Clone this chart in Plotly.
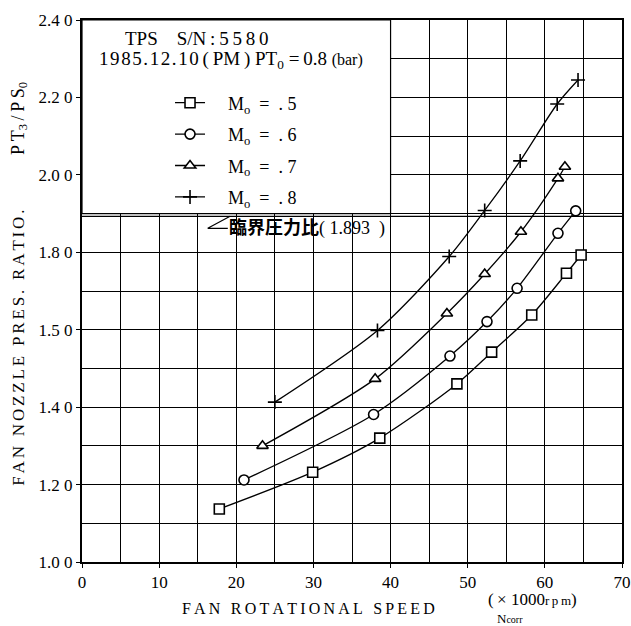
import plotly.graph_objects as go

# ---- data ----
x_m5 = [17.8, 29.9, 38.6, 48.6, 53.1, 58.3, 62.8, 64.7]
y_m5 = [1.137, 1.232, 1.320, 1.460, 1.542, 1.638, 1.746, 1.793]

x_m6 = [21.0, 37.8, 47.7, 52.5, 56.4, 61.7, 64.0]
y_m6 = [1.212, 1.381, 1.532, 1.621, 1.707, 1.849, 1.907]

x_m7 = [23.4, 38.0, 47.3, 52.2, 56.9, 61.7, 62.6]
y_m7 = [1.300, 1.473, 1.642, 1.744, 1.853, 1.991, 2.021]

x_m8 = [25.0, 38.3, 47.6, 52.2, 56.8, 61.6, 64.3]
y_m8 = [1.413, 1.598, 1.789, 1.908, 2.036, 2.183, 2.245]

series_names = ["M<sub>o</sub>  =  . 5", "M<sub>o</sub>  =  . 6", "M<sub>o</sub>  =  . 7", "M<sub>o</sub>  =  . 8"]
series_symbols = ["square", "circle", "triangle-up", "cross-thin"]

x_tickvals = [0, 10, 20, 30, 40, 50, 60, 70]
x_ticktext = ["0", "10", "20", "30", "40", "50", "60", "70"]
y_tickvals = [1.0, 1.2, 1.4, 1.6, 1.8, 2.0, 2.2, 2.4]
y_ticktext = ["1.0 0", "1.2 0", "1.4 0", "1.5 0", "1.8 0", "2.0 0", "2.2 0", "2.4 0"]

critical_ratio = 1.893

SERIF = "Liberation Serif, Noto Sans CJK JP"
NB = "\u00a0"
ts = "\u2009"
hs = "\u200a"
ss = "\u2006"

fig = go.Figure()
for xs, ys, name, sym in zip([x_m5, x_m6, x_m7, x_m8], [y_m5, y_m6, y_m7, y_m8],
                             series_names, series_symbols):
    is_plus = sym == "cross-thin"
    fig.add_trace(go.Scatter(
        x=xs, y=ys, name=NB * 4 + name, mode="lines+markers",
        line=dict(color="black", width=1.3, shape="spline", smoothing=0.8),
        marker=dict(symbol=sym, size=10,
                    color="black" if is_plus else "white",
                    line=dict(color="black", width=1.6)),
        legendgroup=name,
    ))

# legend box (white area) and critical ratio line
fig.add_shape(type="rect", xref="x", yref="y", x0=0, x1=40, y0=1.9, y1=2.4,
              fillcolor="white", line=dict(color="black", width=1.2), layer="above")
fig.add_shape(type="line", xref="paper", yref="y", x0=0, x1=1,
              y0=critical_ratio, y1=critical_ratio,
              line=dict(color="black", width=1.2), layer="above")
# leader mark for the critical ratio label
fig.add_shape(type="path", xref="x", yref="y",
              path="M 19.2 %.3f L 16.3 1.862 L 18.9 1.862" % critical_ratio,
              line=dict(color="black", width=1.2), layer="above")

fig.add_annotation(xref="x", yref="y", x=18.8, y=1.862, xanchor="left", yanchor="middle",
                   text="<b>臨界圧力比</b>(" + NB + "1.893" + NB + NB + ")", showarrow=False,
                   font=dict(family=SERIF, size=18, color="black"))

# header text in box
fig.add_annotation(xref="paper", yref="paper", x=0.213, y=0.965, xanchor="center", yanchor="middle",
                   text="TPS" + NB * 4 + "S/N" + ts + ":" + ts + ts.join("5580"), showarrow=False,
                   font=dict(family=SERIF, size=19, color="black"))
fig.add_annotation(xref="paper", yref="paper", x=0.027, y=0.927, xanchor="left", yanchor="middle",
                   text=hs.join("1985.12.10") + ts + "(" + ts + "PM" + ts + ")" + NB + "PT<sub>0</sub>" + NB
                        + "=" + ts + "0.8" + NB + "<span style='font-size:16px'>(bar)</span>",
                   showarrow=False,
                   font=dict(family=SERIF, size=19, color="black"))


def spaced(s, sep):
    return sep.join(list(s))


# axis titles
fig.add_annotation(xref="paper", yref="paper", x=-0.117, y=0.819, xanchor="center", yanchor="middle",
                   text="P" + ts + "T<sub>3</sub>" + ts + "/" + ts + "P" + ts + "S<sub>0</sub>",
                   textangle=-90, showarrow=False,
                   font=dict(family=SERIF, size=18, color="black"))
fig.add_annotation(xref="paper", yref="paper", x=-0.117, y=0.395, xanchor="center", yanchor="middle",
                   text=spaced("FAN NOZZLE PRES. RATIO.", ss), textangle=-90, showarrow=False,
                   font=dict(family=SERIF, size=17, color="black"))
fig.add_annotation(xref="paper", yref="paper", x=0.42, y=-0.085, xanchor="center", yanchor="middle",
                   text=spaced("FAN ROTATIONAL SPEED", ts), showarrow=False,
                   font=dict(family=SERIF, size=16, color="black"))
fig.add_annotation(xref="paper", yref="paper", x=0.835, y=-0.0685, xanchor="center", yanchor="middle",
                   text="(" + ts + "×" + NB + "1000<span style='font-size:13px'>r" + ts + "p" + ts + "m</span>)",
                   showarrow=False,
                   font=dict(family=SERIF, size=17, color="black"))
fig.add_annotation(xref="paper", yref="paper", x=0.793, y=-0.104, xanchor="center", yanchor="middle",
                   text="N<span style='font-size:10px'>corr</span>", showarrow=False,
                   font=dict(family=SERIF, size=13, color="black"))

axis_common = dict(showline=True, linecolor="black", linewidth=2, mirror=True,
                   gridcolor="black", gridwidth=1, zeroline=False, automargin=False,
                   ticks="outside", ticklen=4, tickcolor="black",
                   tickfont=dict(family=SERIF, size=17, color="black"))
fig.update_xaxes(range=[0, 70], tickvals=x_tickvals, ticktext=x_ticktext,
                 minor=dict(dtick=5, tick0=0, showgrid=True, gridcolor="black", gridwidth=1),
                 **axis_common)
fig.update_yaxes(range=[1.0, 2.4], tickvals=y_tickvals, ticktext=y_ticktext,
                 minor=dict(dtick=0.1, tick0=1.0, showgrid=True, gridcolor="black", gridwidth=1),
                 **axis_common)

fig.update_layout(
    width=631, height=626,
    margin=dict(l=82, r=9, t=20, b=64, autoexpand=False),
    paper_bgcolor="white", plot_bgcolor="white",
    showlegend=True,
    legend=dict(x=0.163, y=0.881, xanchor="left", yanchor="top",
                bgcolor="rgba(0,0,0,0)", borderwidth=0,
                font=dict(family=SERIF, size=18, color="black"),
                tracegroupgap=5, traceorder="grouped"),
)

fig.write_html("out.html")
